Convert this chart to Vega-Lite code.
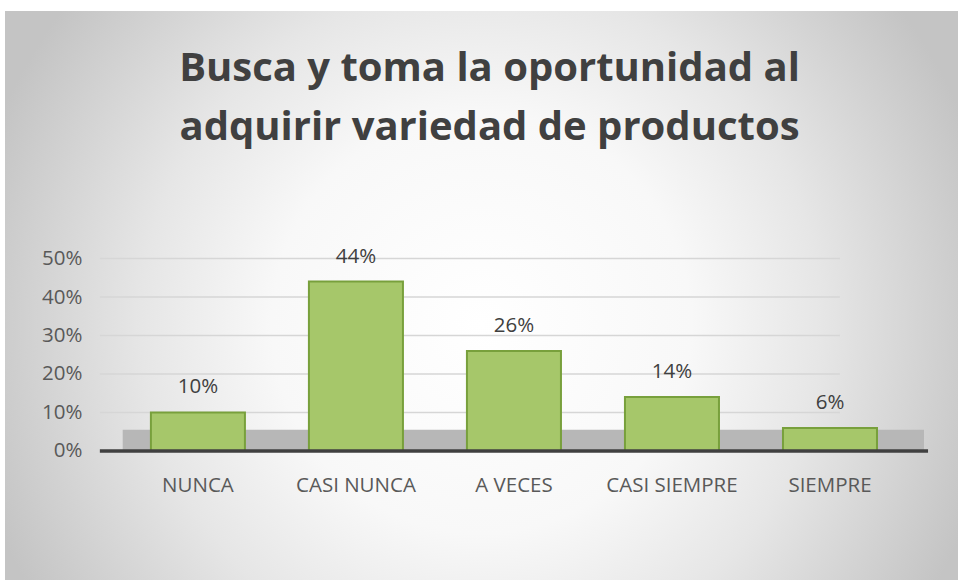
{
  "$schema": "https://vega.github.io/schema/vega-lite/v6.json",
  "width": 953,
  "height": 569,
  "autosize": {"type": "none"},
  "padding": {"left": 5, "top": 11, "right": 0, "bottom": 0},
  "background": "#ffffff",
  "config": {"view": {"stroke": null}, "font": "Open Sans"},
  "title": {
    "text": ["Busca y toma la oportunidad al", "adquirir variedad de productos"],
    "font": "Open Sans",
    "fontSize": 40,
    "fontWeight": "bold",
    "color": "#404040",
    "anchor": "middle",
    "frame": "group",
    "baseline": "top",
    "offset": -137,
    "lineHeight": 59,
    "dx": 8
  },
  "datasets": {
    "bars": [
      {"cat": "NUNCA", "pct": 0.10},
      {"cat": "CASI NUNCA", "pct": 0.44},
      {"cat": "A VECES", "pct": 0.26},
      {"cat": "CASI SIEMPRE", "pct": 0.14},
      {"cat": "SIEMPRE", "pct": 0.06}
    ],
    "grid": [{"v": 0.1}, {"v": 0.2}, {"v": 0.3}, {"v": 0.4}, {"v": 0.5}]
  },
  "resolve": {"axis": {"x": "independent", "y": "independent"}},
  "layer": [
    {
      "data": {"values": [{}]},
      "mark": {
        "type": "rect",
        "color": {
          "gradient": "radial",
          "x1": 0.5, "y1": 0.53, "r1": 0,
          "x2": 0.5, "y2": 0.53, "r2": 0.55,
          "stops": [
            {"offset": 0, "color": "#ffffff"},
            {"offset": 0.4, "color": "#f8f8f8"},
            {"offset": 0.65, "color": "#e6e6e6"},
            {"offset": 1, "color": "#c4c4c4"}
          ]
        }
      }
    },
    {
      "data": {"values": [{}]},
      "mark": {"type": "rect", "color": "#b7b7b7"},
      "encoding": {
        "x": {"datum": "NUNCA", "type": "nominal", "bandPosition": -0.3, "axis": null},
        "x2": {"datum": "SIEMPRE", "bandPosition": 1.5},
        "y": {"datum": 0, "type": "quantitative", "axis": null},
        "y2": {"datum": 0.055}
      }
    },
    {
      "data": {"name": "grid"},
      "mark": {"type": "rule", "color": "#d6d6d6", "strokeWidth": 1.5},
      "encoding": {
        "x": {"datum": "NUNCA", "type": "nominal", "bandPosition": -0.543, "axis": null},
        "x2": {"datum": "SIEMPRE", "bandPosition": 0.606},
        "y": {"field": "v", "type": "quantitative", "axis": null}
      }
    },
    {
      "data": {"name": "bars"},
      "mark": {"type": "bar", "fill": "#a6c76a", "stroke": "#78a03c", "strokeWidth": 2},
      "encoding": {
        "x": {
          "field": "cat",
          "type": "nominal",
          "sort": null,
          "scale": {
            "domain": ["NUNCA", "CASI NUNCA", "A VECES", "CASI SIEMPRE", "SIEMPRE"],
            "paddingInner": 0.405,
            "paddingOuter": 0.718,
            "align": 0.643
          },
          "axis": {
            "domain": false,
            "ticks": false,
            "tickSize": 0,
            "grid": false,
            "labelAngle": 0,
            "labelFont": "Open Sans",
            "labelFontSize": 20.5,
            "labelColor": "#595959",
            "labelPadding": 5,
            "offset": -110,
            "zindex": 2,
            "title": null
          }
        },
        "y": {
          "field": "pct",
          "type": "quantitative",
          "scale": {"domain": [-0.3351, 1.1429], "nice": false, "zero": false},
          "axis": {
            "values": [0, 0.1, 0.2, 0.3, 0.4, 0.5],
            "format": ".0%",
            "grid": false,
            "domain": false,
            "ticks": false,
            "tickSize": 0,
            "offset": -95,
            "labelPadding": 18,
            "labelFont": "Open Sans",
            "labelFontSize": 20.5,
            "labelColor": "#595959",
            "zindex": 2,
            "title": null
          }
        }
      }
    },
    {
      "data": {"values": [{}]},
      "mark": {"type": "rule", "color": "#404040", "strokeWidth": 3.5},
      "encoding": {
        "x": {"datum": "NUNCA", "type": "nominal", "bandPosition": -0.543, "axis": null},
        "x2": {"datum": "SIEMPRE", "bandPosition": 1.543},
        "y": {"datum": 0, "type": "quantitative", "axis": null}
      }
    },
    {
      "data": {"name": "bars"},
      "mark": {"type": "text", "font": "Open Sans", "fontSize": 20.5, "color": "#404040", "baseline": "alphabetic", "dy": -19},
      "encoding": {
        "x": {"field": "cat", "type": "nominal", "sort": null, "axis": null},
        "y": {"field": "pct", "type": "quantitative", "axis": null},
        "text": {"field": "pct", "type": "quantitative", "format": ".0%"}
      }
    }
  ]
}
